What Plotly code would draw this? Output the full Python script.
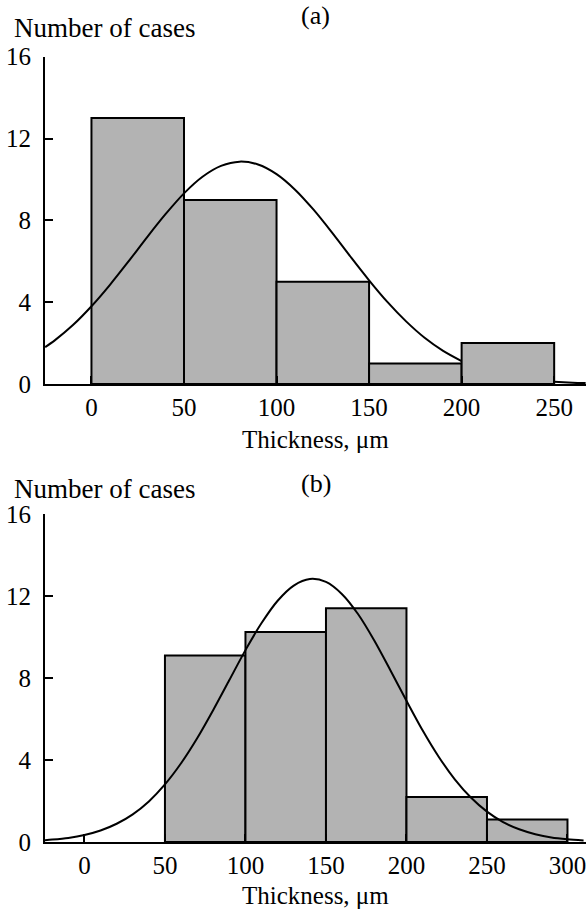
import plotly.graph_objects as go

# ---------------- data ----------------
a_bin_centers = [25, 75, 125, 175, 225]
a_counts = [13, 9, 5, 1, 2]
b_bin_centers = [75, 125, 175, 225, 275]
b_counts = [9.1, 10.25, 11.4, 2.2, 1.1]
bin_width = 50

a_fit_x = [-25, -20, -10, 0, 10, 20, 30, 40, 50, 60, 70, 80, 90, 100, 110, 120, 130, 140,
           150, 160, 170, 180, 190, 200, 210, 220, 230, 240, 250, 260, 267]
a_fit_y = [1.80, 2.12, 2.88, 3.80, 4.85, 5.99, 7.17, 8.30, 9.32, 10.13, 10.66, 10.87, 10.73,
           10.26, 9.50, 8.52, 7.40, 6.22, 5.07, 4.00, 3.06, 2.26, 1.62, 1.12,
           None, None, None, None, 0.11, 0.064, 0.043]

b_fit_x = [-25, -20, -10, 0, 10, 20, 30, 40, 50, 60, 70, 80, 90, 100, 110, 120, 130, 140,
           150, 160, 170, 180, 190, 200, 210, 220, 230, 240, 250, 260, 270, 280, 290, 300, 310]
b_fit_y = [0.086, 0.116, 0.20, 0.34, 0.56, 0.89, 1.35, 1.98, 2.81, 3.84, 5.06, 6.44, 7.90,
           9.36, 10.68, 11.77, 12.51, 12.83, 12.69, 12.09, 11.11, 9.83, 8.38, 6.89, 5.45,
           4.16, 3.06, 2.17, 1.48, 0.97, 0.62, 0.38, 0.22, 0.13, 0.07]

y_ticks = [0, 4, 8, 12, 16]
a_x_ticks = [0, 50, 100, 150, 200, 250]
b_x_ticks = [0, 50, 100, 150, 200, 250, 300]

x_title = "Thickness, μm"
y_title = "Number of cases"
panel_labels = ["(a)", "(b)"]

# ---------------- figure ----------------
FONT = "Liberation Serif"
W, H = 586, 909
bar_style = dict(color="#b3b3b3", line=dict(color="black", width=2))
curve_style = dict(color="black", width=2, shape="spline", smoothing=0.8)

fig = go.Figure()
fig.add_trace(go.Bar(x=a_bin_centers, y=a_counts, width=[bin_width] * len(a_counts),
                     marker=bar_style, xaxis="x", yaxis="y", showlegend=False, hoverinfo="skip"))
fig.add_trace(go.Scatter(x=a_fit_x, y=a_fit_y, mode="lines", line=curve_style,
                         connectgaps=False, xaxis="x", yaxis="y", showlegend=False, hoverinfo="skip"))
fig.add_trace(go.Bar(x=b_bin_centers, y=b_counts, width=[bin_width] * len(b_counts),
                     marker=bar_style, xaxis="x2", yaxis="y2", showlegend=False, hoverinfo="skip"))
fig.add_trace(go.Scatter(x=b_fit_x, y=b_fit_y, mode="lines", line=curve_style,
                         xaxis="x2", yaxis="y2", showlegend=False, hoverinfo="skip"))


def px2frac(y_px):
    return (H - y_px) / H


axis_common = dict(showline=True, linecolor="black", linewidth=2, showgrid=False,
                   zeroline=False, ticks="inside", ticklen=8, tickwidth=2,
                   tickcolor="black", automargin=False, ticklabeloverflow="allow",
                   tickfont=dict(family=FONT, size=25, color="black"))

fig.update_layout(
    template="none",
    width=W, height=H,
    margin=dict(l=45, r=0, t=0, b=0, autoexpand=False),
    paper_bgcolor="white", plot_bgcolor="white",
    bargap=0,
    font=dict(family=FONT, size=25, color="black"),
    xaxis=dict(domain=[0, 1], range=[-25.1, 267.2], anchor="y",
               tickvals=a_x_ticks, ticklabelstandoff=0, **axis_common),
    yaxis=dict(domain=[px2frac(384), px2frac(56.7)], range=[0, 16], anchor="x",
               tickvals=y_ticks, ticklabelstandoff=7, **axis_common),
    xaxis2=dict(domain=[0, 1], range=[-24.5, 311.5], anchor="y2",
                tickvals=b_x_ticks, ticklabelstandoff=0, **axis_common),
    yaxis2=dict(domain=[px2frac(842), px2frac(514)], range=[0, 16], anchor="x2",
                tickvals=y_ticks, ticklabelstandoff=7, **axis_common),
)

annotations = [
    dict(text=y_title, x=(12 - 45) / (W - 45), y=px2frac(28), xanchor="left", yanchor="middle", size=27),
    dict(text=panel_labels[0], x=0.5, y=px2frac(16), xanchor="center", yanchor="middle", size=26),
    dict(text=x_title, x=0.5, y=px2frac(439), xanchor="center", yanchor="middle", size=25),
    dict(text=y_title, x=(12 - 45) / (W - 45), y=px2frac(489), xanchor="left", yanchor="middle", size=27),
    dict(text=panel_labels[1], x=0.5, y=px2frac(483), xanchor="center", yanchor="middle", size=26),
    dict(text=x_title, x=0.5, y=px2frac(895), xanchor="center", yanchor="middle", size=25),
]
for a in annotations:
    s = a.pop("size")
    a.update(xref="paper", yref="paper", showarrow=False,
             font=dict(family=FONT, size=s, color="black"))
fig.update_layout(annotations=annotations)

fig.write_html("out.html", config={"displayModeBar": False, "staticPlot": True},
               post_script="document.body.style.margin='0';document.body.style.overflow='hidden';")
